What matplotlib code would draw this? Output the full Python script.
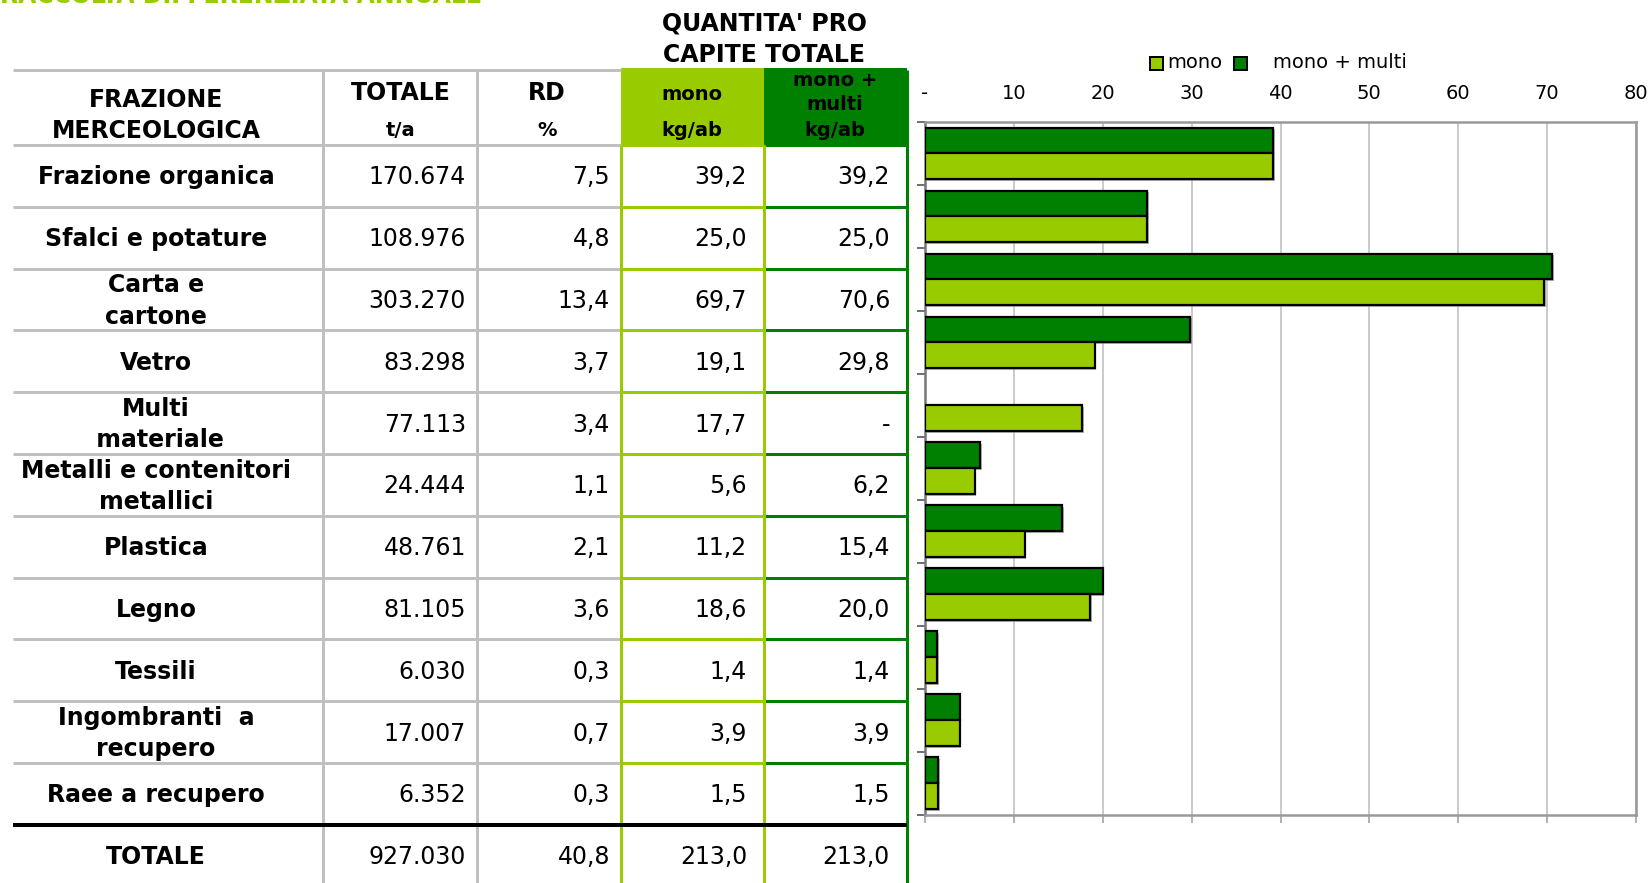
import numpy as np
import matplotlib
matplotlib.use("Agg")
import matplotlib.pyplot as plt
from matplotlib.patches import Rectangle
import matplotlib.patheffects as pe

# ---------------- data ----------------
categories = ["Frazione organica", "Sfalci e potature", "Carta e\ncartone", "Vetro",
              "Multi\n materiale", "Metalli e contenitori\nmetallici", "Plastica", "Legno",
              "Tessili", "Ingombranti  a\nrecupero", "Raee a recupero"]
totale_t = [170674, 108976, 303270, 83298, 77113, 24444, 48761, 81105, 6030, 17007, 6352]
rd_pct = [7.5, 4.8, 13.4, 3.7, 3.4, 1.1, 2.1, 3.6, 0.3, 0.7, 0.3]
mono = [39.2, 25.0, 69.7, 19.1, 17.7, 5.6, 11.2, 18.6, 1.4, 3.9, 1.5]
mono_multi = [39.2, 25.0, 70.6, 29.8, np.nan, 6.2, 15.4, 20.0, 1.4, 3.9, 1.5]
tot_row = {"totale": 927030, "rd": 40.8, "mono": 213.0, "multi": 213.0}
xticks = [0, 10, 20, 30, 40, 50, 60, 70, 80]
xticklabels = ["-", "10", "20", "30", "40", "50", "60", "70", "80"]

LIGHT = "#99CC00"
DARK = "#008000"
GRAY = "#C0C0C0"

W, H = 1650, 883
DPI = 100
fig = plt.figure(figsize=(W / DPI, H / DPI), dpi=DPI, facecolor="white")
plt.rcParams['font.family'] = ['DejaVu Sans']

def px(v):  # pixels -> points
    return v * 72.0 / DPI

def it_num(v, dec=1):
    return f"{v:.{dec}f}".replace(".", ",")

def it_thou(v):
    return f"{v:,}".replace(",", ".")

# ---------------- table overlay ----------------
tab = fig.add_axes([0, 0, 1, 1], zorder=0)
tab.set_xlim(0, W)
tab.set_ylim(H, 0)
tab.axis("off")
tab.patch.set_alpha(0)

# cut-off title (only its lower edge is visible, as in the reference)
tab.text(0, 3, "RACCOLTA DIFFERENZIATA ANNUALE", color=LIGHT, fontsize=17,
         fontweight="bold", ha="left", va="baseline")

x0, c1, c2, c3, c4, c5 = 13, 323, 477, 621, 764, 907
hy0, hy1 = 70, 145
rh = 61.8
row_edges = [hy1 + k * rh for k in range(len(categories) + 1)]
bottom = H + 5

# header fills
tab.add_patch(Rectangle((c3, 68), c4 - c3, hy1 - 68, color=LIGHT, lw=0, zorder=1))
tab.add_patch(Rectangle((c4, 68), c5 - c4, hy1 - 68, color=DARK, lw=0, zorder=1))

lw = px(3)
# horizontal lines
tab.plot([x0, c3], [hy0, hy0], color=GRAY, lw=lw, solid_capstyle="butt", zorder=2)
for y in row_edges[:-1]:
    tab.plot([x0, c3], [y, y], color=GRAY, lw=lw, solid_capstyle="butt", zorder=2)
    tab.plot([c3, c4], [y, y], color=LIGHT, lw=lw, solid_capstyle="butt", zorder=3)
    tab.plot([c4, c5], [y, y], color=DARK, lw=lw, solid_capstyle="butt", zorder=3)
# vertical lines
for xc in (c1, c2):
    tab.plot([xc, xc], [hy0, bottom], color=GRAY, lw=lw, solid_capstyle="butt", zorder=2)
for xc in (c3, c4):
    tab.plot([xc, xc], [hy1, bottom], color=LIGHT, lw=lw, solid_capstyle="butt", zorder=3)
tab.plot([c5, c5], [hy0, bottom], color=DARK, lw=lw, solid_capstyle="butt", zorder=4)
# thick black line above total
tab.plot([x0, c5], [row_edges[-1], row_edges[-1]], color="black", lw=px(4),
         solid_capstyle="butt", zorder=5)

# header texts
tab.text(764, 23, "QUANTITA' PRO", ha="center", va="center", fontsize=17, fontweight="bold")
tab.text(764, 54.7, "CAPITE TOTALE", ha="center", va="center", fontsize=17, fontweight="bold")
tab.text(156, 100, "FRAZIONE", ha="center", va="center", fontsize=17, fontweight="bold")
tab.text(156, 131, "MERCEOLOGICA", ha="center", va="center", fontsize=17, fontweight="bold")
tab.text(401, 93, "TOTALE", ha="center", va="center", fontsize=17, fontweight="bold")
tab.text(401, 131, "t/a", ha="center", va="center", fontsize=14, fontweight="bold")
tab.text(547, 93, "RD", ha="center", va="center", fontsize=17, fontweight="bold")
tab.text(547, 131, "%", ha="center", va="center", fontsize=14, fontweight="bold")
tab.text(692, 94, "mono", ha="center", va="center", fontsize=14, fontweight="bold", zorder=6)
tab.text(692, 131, "kg/ab", ha="center", va="center", fontsize=14, fontweight="bold", zorder=6)
tab.text(835, 80, "mono +", ha="center", va="center", fontsize=14, fontweight="bold", zorder=6)
tab.text(835, 105, "multi", ha="center", va="center", fontsize=14, fontweight="bold", zorder=6)
tab.text(835, 131, "kg/ab", ha="center", va="center", fontsize=14, fontweight="bold", zorder=6)

NUM_FS = 17
for i, cat in enumerate(categories):
    yc = (row_edges[i] + row_edges[i + 1]) / 2 + 1.5
    tab.text(156, yc, cat, ha="center", va="center", multialignment="center",
             fontsize=NUM_FS, fontweight="bold", linespacing=1.4)
    tab.text(466, yc, it_thou(totale_t[i]), ha="right", va="center", fontsize=NUM_FS)
    tab.text(610, yc, it_num(rd_pct[i]), ha="right", va="center", fontsize=NUM_FS)
    tab.text(747, yc, it_num(mono[i]), ha="right", va="center", fontsize=NUM_FS)
    mm = mono_multi[i]
    tab.text(890, yc, "-" if np.isnan(mm) else it_num(mm), ha="right", va="center",
             fontsize=NUM_FS)

yt = row_edges[-1] + rh / 2 + 1
tab.text(156, yt, "TOTALE", ha="center", va="center", fontsize=NUM_FS, fontweight="bold")
tab.text(466, yt, it_thou(tot_row["totale"]), ha="right", va="center", fontsize=NUM_FS)
tab.text(610, yt, it_num(tot_row["rd"]), ha="right", va="center", fontsize=NUM_FS)
tab.text(747, yt, it_num(tot_row["mono"]), ha="right", va="center", fontsize=NUM_FS)
tab.text(890, yt, it_num(tot_row["multi"]), ha="right", va="center", fontsize=NUM_FS)

# legend
sq = 13
ly = 63
tab.add_patch(Rectangle((1150, ly - sq / 2), sq, sq, facecolor=LIGHT, edgecolor="black",
                        lw=px(2), zorder=6))
tab.text(1167, ly, "mono", ha="left", va="center", fontsize=14)
tab.add_patch(Rectangle((1234, ly - sq / 2), sq, sq, facecolor=DARK, edgecolor="black",
                        lw=px(2), zorder=6))
tab.text(1273, ly, "mono + multi", ha="left", va="center", fontsize=14)

# ---------------- chart ----------------
ax_l, ax_r, ax_t, ax_b = 925, 1636, 122, 814.5
ax = fig.add_axes([ax_l / W, 1 - ax_b / H, (ax_r - ax_l) / W, (ax_b - ax_t) / H], zorder=2)
ax.set_facecolor("white")
n = len(categories)
y = np.arange(n)
bh = 0.41
shadow = [pe.SimplePatchShadow(offset=(1.2, -1.2), shadow_rgbFace="#808080", alpha=0.6),
          pe.Normal()]
b1 = ax.barh(y - bh / 2, mono_multi, height=bh, color=DARK, edgecolor="black",
             lw=px(2.2), zorder=3)
b2 = ax.barh(y + bh / 2, mono, height=bh, color=LIGHT, edgecolor="black",
             lw=px(2.2), zorder=3)
for b in list(b1) + list(b2):
    b.set_path_effects(shadow)

ax.set_xlim(0, 80)
ax.set_ylim(n - 0.5, -0.5)
ax.set_xticks(xticks)
ax.set_xticklabels(xticklabels)
ax.set_yticks(np.arange(-0.5, n, 1.0))
ax.set_yticklabels([])
ax.grid(axis="x", color="#BBBBBB", lw=px(1.5), zorder=0)
ax.tick_params(axis="x", bottom=True, top=False, labelbottom=False, labeltop=True,
               direction="out", length=6, width=px(1.5), color="#999999",
               labelsize=14, pad=8)
ax.tick_params(axis="y", left=True, direction="out", length=6, width=px(1.5),
               color="#444444")
for s in ax.spines.values():
    s.set_color("#999999")
    s.set_linewidth(px(2.5))
ax.spines["left"].set_color("#777777")

fig.savefig("out.png", dpi=DPI, facecolor="white")
